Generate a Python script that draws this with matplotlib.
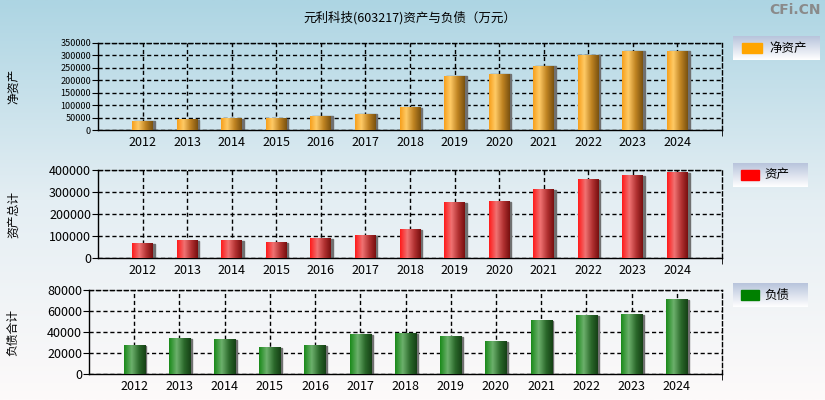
import numpy as np
import matplotlib
matplotlib.use('Agg')
import matplotlib.pyplot as plt
from matplotlib.colors import LinearSegmentedColormap
from matplotlib.patches import Rectangle

plt.rcParams['font.family'] = ['Noto Sans CJK SC', 'DejaVu Sans']

years = [2012, 2013, 2014, 2015, 2016, 2017, 2018, 2019, 2020, 2021, 2022, 2023, 2024]
net_assets = [36000, 41400, 45400, 45400, 56100, 64100, 89500, 216400, 224400, 256500, 300600, 316600, 316600]
total_assets = [64900, 78500, 78500, 69400, 87500, 101100, 128300, 250600, 255100, 309400, 354700, 372800, 386400]
total_liab = [26900, 33500, 32600, 25000, 26900, 37300, 38300, 35400, 30700, 50600, 55300, 56300, 70500]

title = '元利科技(603217)资产与负债（万元）'

fig = plt.figure(figsize=(8.25, 4.0), dpi=100)

# background gradient
bg = fig.add_axes([0, 0, 1, 1], zorder=-10)
bg_cmap = LinearSegmentedColormap.from_list('bg', ['#fdfafa', '#e4eef3', '#add5e3'])
bg.imshow(np.linspace(0, 1, 256).reshape(-1, 1), origin='lower', aspect='auto',
          cmap=bg_cmap, extent=(0, 1, 0, 1))
bg.set_xlim(0, 1)
bg.set_ylim(0, 1)
bg.axis('off')

cm_orange = LinearSegmentedColormap.from_list('o', [(0, '#f7a01c'), (0.3, '#ffca66'), (0.65, '#c08422'), (1, '#7a5210')])
cm_red = LinearSegmentedColormap.from_list('r', [(0, '#ff1a1a'), (0.35, '#f07272'), (0.7, '#b03030'), (1, '#781010')])
cm_green = LinearSegmentedColormap.from_list('g', [(0, '#1a8a1a'), (0.35, '#6cb06c'), (0.7, '#2a682a'), (1, '#154015')])

grad = np.linspace(0, 1, 64).reshape(1, -1)


def panel(rect, values, ymax, ystep, cmap, ylabel, ysize, lab_color, leg_rect, leg_text):
    ax = fig.add_axes(rect)
    ax.set_facecolor('none')
    w = 0.47
    for x, v in zip(years, values):
        ax.add_patch(Rectangle((x - w / 2 + 0.035, 0), w, v, color='#707070', zorder=2))
        ax.imshow(grad, extent=(x - w / 2, x + w / 2, 0, v), aspect='auto', cmap=cmap, zorder=3)
    ax.set_xlim(2011, 2025)
    ax.set_ylim(0, ymax)
    ax.set_yticks(np.arange(0, ymax + 1, ystep))
    ax.set_xticks(years)
    ax.set_xticks([2025], minor=True)
    ax.tick_params(axis='x', which='major', length=0, labelsize=9, pad=4)
    ax.tick_params(axis='x', which='minor', length=4)
    ax.tick_params(axis='y', length=4, labelsize=ysize, pad=1, colors='black')
    ax.grid(True, color='black', linestyle=(0, (3, 2)), linewidth=1, zorder=1)
    ax.set_axisbelow(True)
    for s in ['top', 'right']:
        ax.spines[s].set_linestyle((0, (3, 2)))
    for s in ax.spines.values():
        s.set_linewidth(1)
    fig.text(0.016, rect[1] + rect[3] / 2, ylabel, rotation=90, ha='center', va='center', fontsize=8.5)
    # legend box
    lax = fig.add_axes(leg_rect, zorder=5)
    lcm = LinearSegmentedColormap.from_list('l', ['#ffffff', '#b8c4dc'])
    lax.imshow(np.linspace(0, 1, 64).reshape(-1, 1), origin='lower', aspect='auto', cmap=lcm,
               extent=(0, 1, 0, 1))
    lax.add_patch(Rectangle((0.1, 0.3), 0.25 if len(leg_text) < 3 else 0.23, 0.4, color=lab_color))
    lax.text(0.42, 0.5, leg_text, va='center', ha='left', fontsize=9)
    lax.set_xlim(0, 1)
    lax.set_ylim(0, 1)
    lax.axis('off')
    return ax


panel([0.1188, 0.675, 0.7564, 0.2175], net_assets, 350000, 50000, cm_orange, '净资产', 6.5,
      '#ffa500', [733 / 825, 1 - 60 / 400, 87 / 825, 24 / 400], '净资产')
panel([0.1188, 0.355, 0.7564, 0.22], total_assets, 400000, 100000, cm_red, '资产总计', 9,
      '#ff0000', [733 / 825, 1 - 187 / 400, 75 / 825, 24 / 400], '资产')
ax3 = panel([0.1079, 0.065, 0.7673, 0.21], total_liab, 80000, 20000, cm_green, '负债合计', 9,
            '#008000', [733 / 825, 1 - 307 / 400, 75 / 825, 24 / 400], '负债')

fig.text(0.497, 1 - 18 / 400, title, ha='center', va='center', fontsize=9)
fig.text(0.995, 1 - 10 / 400, 'CFi.CN', ha='right', va='center', fontsize=10,
         fontweight='bold', color='#8a8a8a', family='DejaVu Sans')

fig.savefig('out.png', dpi=100)
